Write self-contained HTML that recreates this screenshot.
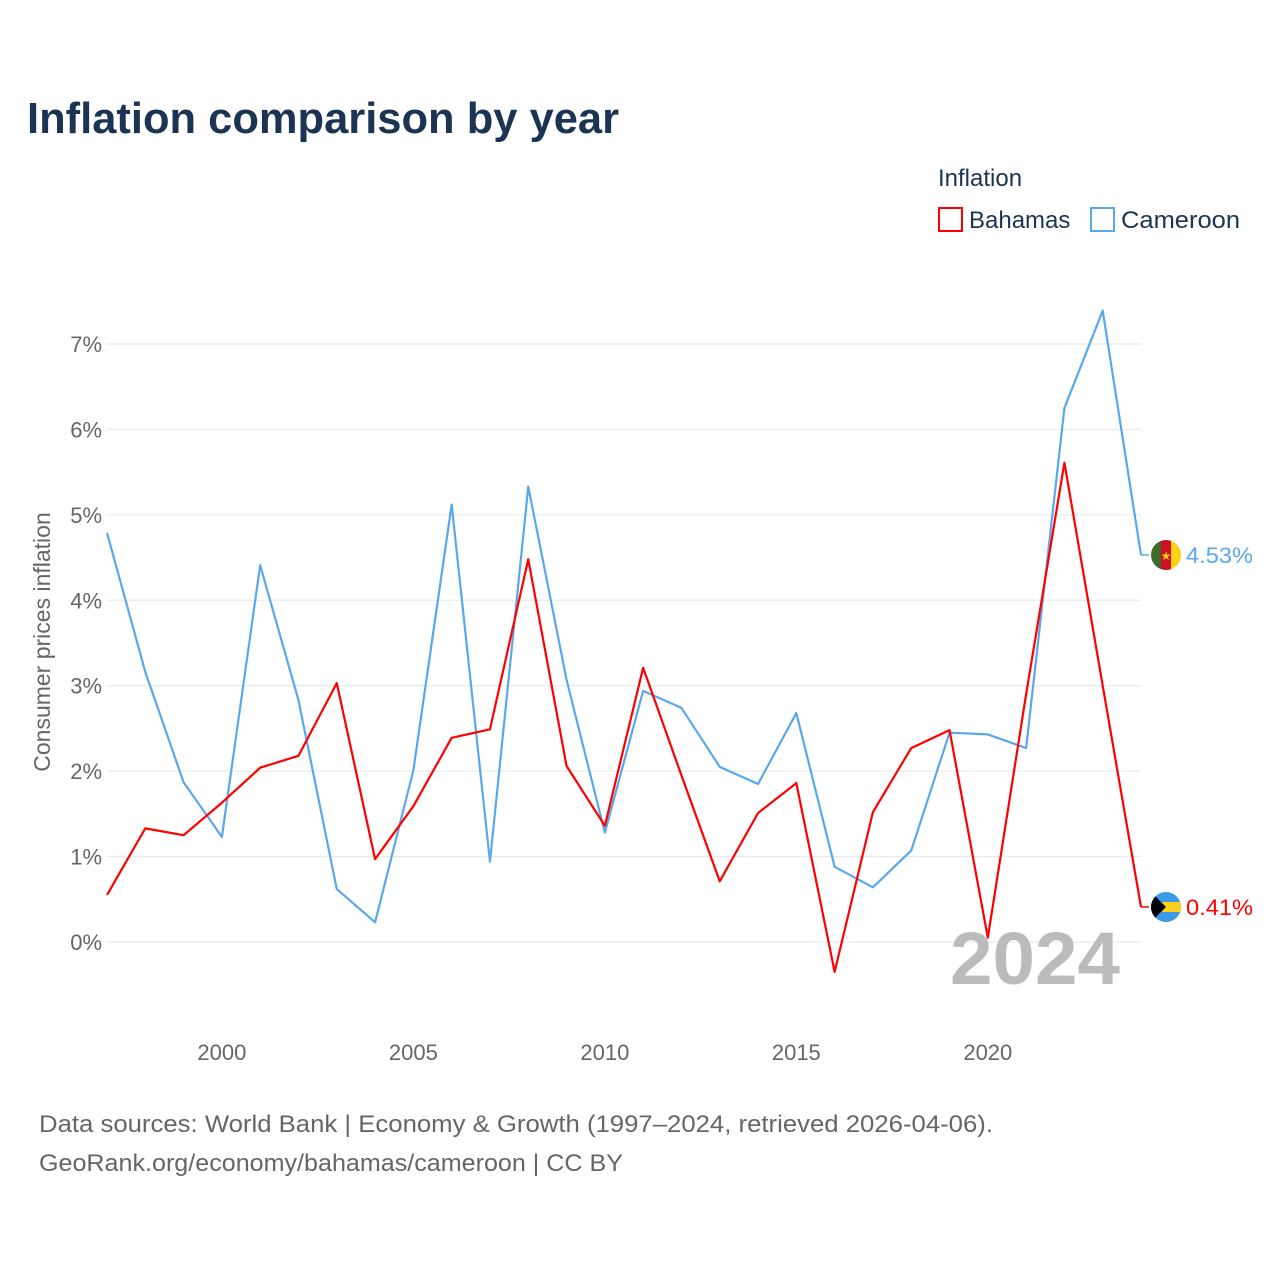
<!DOCTYPE html>
<html><head><meta charset="utf-8"><style>
body{margin:0;background:#fff;font-family:"Liberation Sans",sans-serif}
svg text{font-family:"Liberation Sans",sans-serif}
</style></head><body>
<svg id="chart" width="1280" height="1280" viewBox="0 0 1280 1280" xmlns="http://www.w3.org/2000/svg">
<text x="27" y="133" font-size="44" font-weight="bold" fill="#1b3454" textLength="592" lengthAdjust="spacingAndGlyphs">Inflation comparison by year</text>
<text x="938" y="186" font-size="24" fill="#1b3454">Inflation</text>
<g><rect x="939" y="208" width="23" height="23" fill="none" stroke="#f00" stroke-width="2"/><text x="969" y="228" font-size="24" fill="#1b3454">Bahamas</text></g>
<g><rect x="1091" y="208" width="23" height="23" fill="none" stroke="#5aa8ec" stroke-width="2"/><text x="1121" y="228" font-size="24" fill="#1b3454" textLength="119" lengthAdjust="spacingAndGlyphs">Cameroon</text></g>
<text transform="translate(50,642) rotate(-90)" text-anchor="middle" font-size="23" fill="#666">Consumer prices inflation</text>
<g id="grid"></g><g id="xt"></g>
<text x="1120" y="984" text-anchor="end" font-size="74" font-weight="bold" fill="#bbb" textLength="170" lengthAdjust="spacingAndGlyphs">2024</text>
<g id="series"></g>
<g><clipPath id="c1"><circle cx="1166" cy="555" r="15"/></clipPath><g clip-path="url(#c1)"><rect x="1151" y="540" width="10" height="30" fill="#3e6b2a"/><rect x="1161" y="540" width="10" height="30" fill="#ce1126"/><rect x="1171" y="540" width="10" height="30" fill="#fcd116"/></g><text x="1166" y="560" font-size="12" text-anchor="middle" fill="#fcd116">★</text></g>
<g><clipPath id="c2"><circle cx="1166" cy="907" r="15"/></clipPath><g clip-path="url(#c2)"><rect x="1151" y="892" width="30" height="30" fill="#3b9be8"/><rect x="1151" y="902" width="30" height="10" fill="#fcd116"/><polygon points="1151,892 1166,907 1151,922" fill="#000"/></g></g>
<text x="39" y="1132" font-size="24" fill="#666" textLength="954" lengthAdjust="spacingAndGlyphs">Data sources: World Bank | Economy &amp; Growth (1997–2024, retrieved 2026-04-06).</text>
<text x="39" y="1171" font-size="24" fill="#666" textLength="584" lengthAdjust="spacingAndGlyphs">GeoRank.org/economy/bahamas/cameroon | CC BY</text>
</svg>
<script>
const years=[1997,1998,1999,2000,2001,2002,2003,2004,2005,2006,2007,2008,2009,2010,2011,2012,2013,2014,2015,2016,2017,2018,2019,2020,2021,2022,2023,2024];
const cameroon=[4.79,3.16,1.87,1.23,4.41,2.83,0.62,0.23,2.01,5.12,0.94,5.33,3.07,1.28,2.94,2.74,2.05,1.85,2.68,0.88,0.64,1.07,2.45,2.43,2.27,6.25,7.39,4.53];
const bahamas=[0.55,1.33,1.25,1.63,2.04,2.18,3.03,0.97,1.59,2.39,2.49,4.48,2.06,1.36,3.21,1.95,0.71,1.51,1.86,-0.35,1.52,2.27,2.48,0.05,2.9,5.61,3.0,0.41];
const yTicks=[0,1,2,3,4,5,6,7];
const xTicks=[2000,2005,2010,2015,2020];
const NS='http://www.w3.org/2000/svg';
const x=v=>107+(v-1997)*(1141-107)/27;
const y=v=>942-v*85.43;
function mk(t,a,p){const e=document.createElementNS(NS,t);for(const k in a)e.setAttribute(k,a[k]);p.appendChild(e);return e;}
const g=document.getElementById('grid');
yTicks.forEach(t=>{
 const l=mk('line',{x1:107,x2:1141,y1:y(t),y2:y(t),stroke:'#e6e6e6','stroke-width':1},g);
 
 
 const tx=mk('text',{x:102,y:y(t)+8,'text-anchor':'end','font-size':22,fill:'#666'},g);
 
 
 tx.textContent=t+'%';
});
const xt=document.getElementById('xt');
xTicks.forEach(t=>{
 const tx=mk('text',{x:x(t),y:1060,'text-anchor':'middle','font-size':22,fill:'#666'},xt);
 
 
 tx.textContent=t;
});
const s=document.getElementById('series');
function line(vals,col,name){
 const p=mk('polyline',{points:vals.map((v,i)=>x(years[i])+','+y(v)).join(' '),fill:'none',stroke:col,'stroke-width':2.2,'stroke-linejoin':'round'},s);
 
 
 const last=vals[vals.length-1];
 mk('polyline',{points:`${x(2024)},${y(last)} ${x(2024)+8},${y(last)}`,fill:'none',stroke:col,'stroke-width':1.5},s);
 const t=mk('text',{x:1186,y:y(last)+8,'font-size':22,fill:col,textLength:67,lengthAdjust:'spacingAndGlyphs'},s);
 
 
 t.textContent=last.toFixed(2)+'%';
}
line(cameroon,'#5aa8ec','cameroon');
line(bahamas,'#ff0000','bahamas');
</script>
</body></html>
